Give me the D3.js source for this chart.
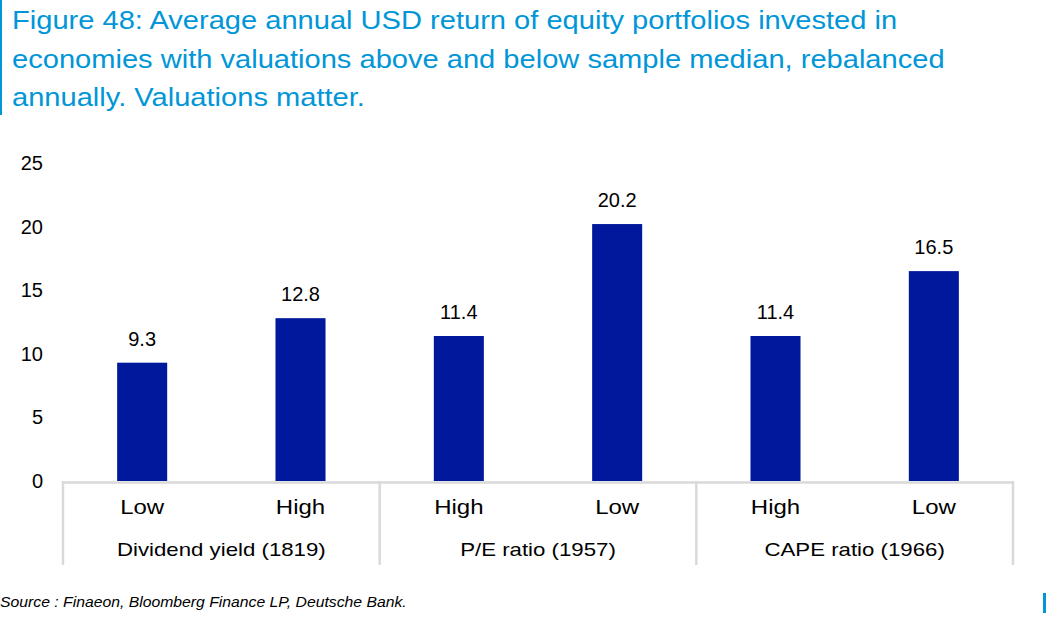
<!DOCTYPE html>
<html><head><meta charset="utf-8">
<script src="https://cdn.jsdelivr.net/npm/d3@7"></script>
<style>
body{margin:0;background:#fff;}
svg{display:block;font-family:"Liberation Sans",Arial,sans-serif;}
</style></head>
<body>
<svg id="chart" width="1049" height="618"></svg>
<script>
const titleLines = [
  "Figure 48: Average annual USD return of equity portfolios invested in",
  "economies with valuations above and below sample median, rebalanced",
  "annually. Valuations matter."
];
const categories = ["Low", "High", "High", "Low", "High", "Low"];
const groups = ["Dividend yield (1819)", "P/E ratio (1957)", "CAPE ratio (1966)"];
const values = [9.3, 12.8, 11.4, 20.2, 11.4, 16.5];
const yTicks = [0, 5, 10, 15, 20, 25];
const source = "Source : Finaeon, Bloomberg Finance LP, Deutsche Bank.";

(function () {
const svg = d3.select("#chart");
const pLeft = 63, pRight = 1013, pTop = 163, pBottom = 481;
const idx = categories.map((d, i) => i);
const x = d3.scaleBand().domain(idx).range([pLeft, pRight]).paddingInner(0.684).paddingOuter(0.342);
const y = d3.scaleLinear().domain([0, 25]).range([pBottom, pTop]);

function stretch(sel, f) {
  sel.each(function () {
    const w = this.getComputedTextLength();
    d3.select(this).attr("textLength", w * f).attr("lengthAdjust", "spacingAndGlyphs");
  });
}

// title
svg.append("rect").attr("x", 0).attr("y", 0).attr("width", 2).attr("height", 115).attr("fill", "#0096d8");
const tt = svg.append("g").selectAll("text").data(titleLines).join("text")
  .attr("x", 12).attr("y", (d, i) => 29 + i * 38.5)
  .attr("fill", "#0096d8").attr("font-size", 25).text(d => d);
stretch(tt, 1.163);

// y axis labels
const yAxis = d3.axisLeft(y).tickValues(yTicks).tickSize(0).tickPadding(0);
const ga = svg.append("g").attr("transform", `translate(43,0)`).call(yAxis);
ga.select(".domain").remove();
ga.selectAll("text").attr("font-size", 20).attr("fill", "#000").attr("font-family", "Liberation Sans, Arial, sans-serif");

// bars
svg.append("g").selectAll("rect").data(values).join("rect")
  .attr("x", (d, i) => x(i)).attr("width", x.bandwidth())
  .attr("y", d => y(d)).attr("height", d => y(0) - y(d))
  .attr("fill", "#00189b");

// value labels
svg.append("g").selectAll("text").data(values).join("text")
  .attr("x", (d, i) => x(i) + x.bandwidth() / 2).attr("y", d => y(d) - 17)
  .attr("text-anchor", "middle").attr("font-size", 20).attr("fill", "#000")
  .text(d => d.toFixed(1));

// category axis
const axisColor = "#d9d9d9";
svg.append("line").attr("x1", pLeft).attr("x2", pRight).attr("y1", pBottom + 1.5).attr("y2", pBottom + 1.5)
  .attr("stroke", axisColor).attr("stroke-width", 2.5);
const step = x.step();
const groupEdges = d3.range(groups.length + 1).map(g => pLeft + g * 2 * step);
svg.append("g").selectAll("line").data(groupEdges).join("line")
  .attr("x1", d => d).attr("x2", d => d).attr("y1", pBottom).attr("y2", 565)
  .attr("stroke", axisColor).attr("stroke-width", 2.5);

const ct = svg.append("g").selectAll("text").data(categories).join("text")
  .attr("x", (d, i) => x(i) + x.bandwidth() / 2).attr("y", 514)
  .attr("text-anchor", "middle").attr("font-size", 20).attr("fill", "#000").text(d => d);
stretch(ct, 1.2);

const gt = svg.append("g").selectAll("text").data(groups).join("text")
  .attr("x", (d, i) => (groupEdges[i] + groupEdges[i + 1]) / 2).attr("y", 556)
  .attr("text-anchor", "middle").attr("font-size", 19).attr("fill", "#000").text(d => d);
stretch(gt, 1.17);

// source
const st = svg.append("text").attr("x", 0).attr("y", 607).attr("font-size", 14.5).attr("font-style", "italic")
  .attr("fill", "#000").text(source);
stretch(st, 1.086);
svg.append("rect").attr("x", 1043).attr("y", 593).attr("width", 3).attr("height", 20).attr("fill", "#0096d8");
})();
</script>
</body></html>
